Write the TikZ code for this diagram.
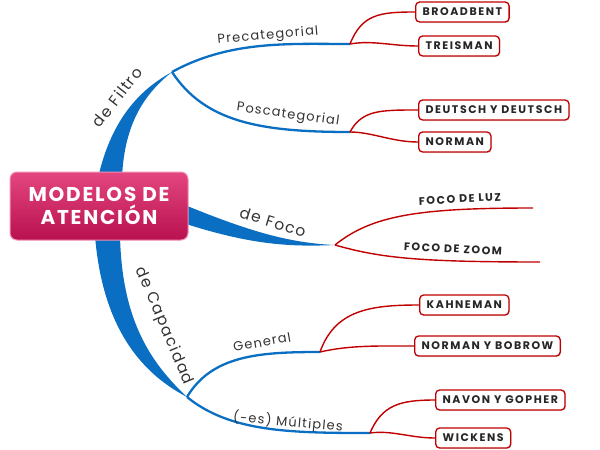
\documentclass[tikz,border=0pt]{standalone}
\usepackage{fontspec}
\setmainfont{Poppins}
\newfontfamily\spaced[LetterSpace=9]{Poppins}
\newfontfamily\spacedb[LetterSpace=14]{Poppins}
\usetikzlibrary{shadows}
\definecolor{bblue}{HTML}{0A6FC2}
\definecolor{rred}{HTML}{C00000}
\definecolor{ttext}{HTML}{333333}
\definecolor{pinktop}{HTML}{E4467F}
\definecolor{pinkbot}{HTML}{B8114F}
\tikzset{
  leafbox/.style={draw=rred, line width=1.3pt, rounded corners=4pt, fill=white,
    font=\spacedb\fontsize{11}{13}\selectfont\bfseries, text=black!85, inner xsep=7pt,
    minimum height=20pt, anchor=west, drop shadow={opacity=0.25, shadow xshift=1pt, shadow yshift=-1pt}},
  bluebranch/.style={draw=bblue, line width=2.3pt},
  redbranch/.style={draw=rred, line width=1.4pt},
  blab/.style={font=\spaced\fontsize{13}{15}\selectfont, text=ttext},
  biglab/.style={font=\spaced\fontsize{15.5}{17}\selectfont, text=ttext},
  uline/.style={font=\spacedb\fontsize{11}{13}\selectfont\bfseries, text=black!85}
}
\begin{document}
\begin{tikzpicture}[x=1pt,y=-1pt]
\useasboundingbox (0,0) rectangle (600,450);
% junction coordinates
\coordinate (jF) at (172,72);
\coordinate (jPre) at (350,44);
\coordinate (jPos) at (350,132);
\coordinate (jFoco) at (335,245);
\coordinate (jCap) at (187,397);
\coordinate (jGen) at (320,352);
\coordinate (jMul) at (370,433);
\coordinate (eLuz) at (533,208);
\coordinate (eZoom) at (540,262);
% thick main branches
\fill[bblue] (98,178) .. controls (110,125) and (135,92) .. (jF)
  .. controls (140,97) and (124,130) .. (122,178) -- cycle;
\fill[bblue] (180,203) .. controls (250,232) and (290,243) .. (jFoco)
  .. controls (290,247) and (250,245) .. (180,222) -- cycle;
\fill[bblue] (95,236) .. controls (102,320) and (135,370) .. (jCap)
  .. controls (150,362) and (122,320) .. (120,236) -- cycle;
% central node
\node[draw=pinktop!60!white, line width=1pt, rounded corners=7pt,
  top color=pinktop, bottom color=pinkbot, minimum width=178pt, minimum height=68pt,
  text=white, align=center, font=\spaced\fontsize{20}{23}\selectfont\bfseries]
  (center) at (99,206) {MODELOS DE\\ATENCIÓN};
% blue sub branches
\draw[bluebranch] (jF) .. controls (230,40) and (290,44) .. (jPre);
\draw[bluebranch] (jF) .. controls (205,122) and (260,132) .. (jPos);
\draw[bluebranch] (jCap) .. controls (212,355) and (260,352) .. (jGen);
\draw[bluebranch] (jCap) .. controls (230,432) and (290,433) .. (jMul);
% leaf boxes
\node[leafbox] (b1) at (415,12) {BROADBENT};
\node[leafbox] (b2) at (418,46) {TREISMAN};
\node[leafbox] (b3) at (418,110) {DEUTSCH Y DEUTSCH};
\node[leafbox] (b4) at (418,142) {NORMAN};
\node[leafbox] (b5) at (419,305) {KAHNEMAN};
\node[leafbox] (b6) at (414,346) {NORMAN Y BOBROW};
\node[leafbox] (b7) at (435,400) {NAVON Y GOPHER};
\node[leafbox] (b8) at (435,438) {WICKENS};
% red connectors
\draw[redbranch] (jPre) .. controls (362,14) and (380,12) .. (b1.west);
\draw[redbranch] (jPre) .. controls (372,40) and (392,46) .. (b2.west);
\draw[redbranch] (jPos) .. controls (362,110) and (380,110) .. (b3.west);
\draw[redbranch] (jPos) .. controls (372,132) and (392,142) .. (b4.west);
\draw[redbranch] (jGen) .. controls (335,310) and (370,305) .. (b5.west);
\draw[redbranch] (jGen) .. controls (350,345) and (380,346) .. (b6.west);
\draw[redbranch] (jMul) .. controls (382,405) and (400,400) .. (b7.west);
\draw[redbranch] (jMul) .. controls (392,430) and (410,438) .. (b8.west);
\draw[redbranch] (jFoco) .. controls (372,215) and (420,208) .. (eLuz);
\draw[redbranch] (jFoco) .. controls (380,258) and (420,262) .. (eZoom);
% underline labels
\node[uline, rotate=3] (tLuz) at (460,199) {FOCO DE LUZ};
\node[uline, rotate=-3] (tZoom) at (453,249) {FOCO DE ZOOM};
% branch labels
\node[biglab, rotate=52] (lFiltro) at (117,97) {de Filtro};
\node[biglab, rotate=-17] (lFoco) at (273,222) {de Foco};
\node[biglab, rotate=-67] (lCap) at (164,326) {de Capacidad};
\node[blab, rotate=5] (lPre) at (268,36) {Precategorial};
\node[blab, rotate=-8] (lPos) at (288,115) {Poscategorial};
\node[blab, rotate=10] (lGen) at (262,342) {General};
\node[blab, rotate=-5] (lMul) at (288,422) {(-es) Múltiples};
\end{tikzpicture}
\end{document}
